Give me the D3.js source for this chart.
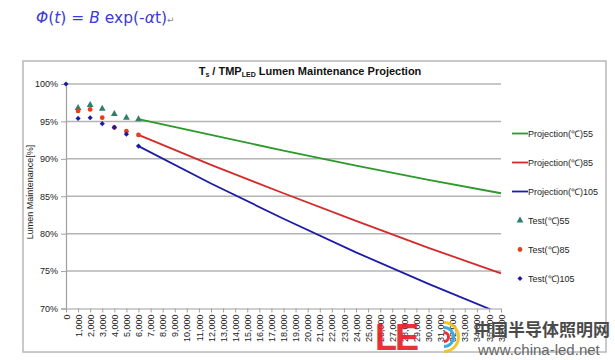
<!DOCTYPE html>
<html><head><meta charset="utf-8">
<script src="https://cdn.jsdelivr.net/npm/d3@7"></script>
<style>body{margin:0;background:#fff;} text{font-family:"Liberation Sans",Arial,sans-serif;}</style>
</head><body><svg id="c" width="615" height="360"></svg>
<script>
const xTicks = d3.range(0, 36001, 1000);
const yTicks = [0.70, 0.75, 0.80, 0.85, 0.90, 0.95, 1.00];
const testHours = [0, 1000, 2000, 3000, 4000, 5000, 6000];
const test55 = [null, 0.968, 0.972, 0.967, 0.960, 0.955, 0.953];
const test85 = [null, 0.964, 0.966, 0.955, 0.942, 0.937, 0.932];
const test105 = [1.000, 0.954, 0.955, 0.947, 0.942, 0.933, 0.917];
const projHours = [6000, 12000, 18000, 24000, 30000, 36000];
const proj55 = [0.953, 0.932, 0.911, 0.891, 0.872, 0.854];
const proj85 = [0.932, 0.892, 0.854, 0.817, 0.781, 0.747];
const proj105 = [0.917, 0.867, 0.820, 0.775, 0.733, 0.693];
const legendLabels = ["Projection(℃)55","Projection(℃)85","Projection(℃)105","Test(℃)55","Test(℃)85","Test(℃)105"];

const svg = d3.select("#c");
// formula
const f = svg.append("text").attr("x",36).attr("y",23).attr("fill","#3b3bd6").attr("font-size",15.5)
  .style("font-family","'DejaVu Sans',sans-serif");
f.append("tspan").attr("font-style","italic").text("Φ");
f.append("tspan").text("(");
f.append("tspan").attr("font-style","italic").text("t");
f.append("tspan").text(") = ");
f.append("tspan").attr("font-style","italic").text("B");
f.append("tspan").text(" exp(-");
f.append("tspan").attr("font-style","italic").text("α");
f.append("tspan").text("t)");
f.append("tspan").attr("font-size",9).attr("fill","#888").text("↵");

// frame
svg.append("rect").attr("x",23).attr("y",61).attr("width",583).attr("height",291)
  .attr("fill","#fff").attr("stroke","#b8b8b8").attr("stroke-width",1.5);

const x = d3.scaleLinear().domain([0,36000]).range([66,501]);
const y = d3.scaleLinear().domain([0.70,1.00]).range([308.5,84]);

// gridlines
svg.append("g").selectAll("line").data(yTicks.filter(d=>d>0.7)).join("line")
  .attr("x1",66).attr("x2",501).attr("y1",d=>y(d)).attr("y2",d=>y(d))
  .attr("stroke","#b4b4b4").attr("stroke-width",1.5);

// y axis
const ya = svg.append("g").attr("transform","translate(66,0)")
  .call(d3.axisLeft(y).tickValues(yTicks).tickFormat(d3.format(".0%")).tickSize(5).tickPadding(3));
ya.select(".domain").attr("stroke","#a0a0a0").attr("stroke-width",1.2);
ya.selectAll(".tick line").attr("stroke","#a0a0a0");
ya.selectAll("text").attr("font-size",9).attr("fill","#222").style("font-family","'Liberation Sans',Arial,sans-serif");

// x axis
const xa = svg.append("g").attr("transform","translate(0,308.5)")
  .call(d3.axisBottom(x).tickValues(xTicks).tickFormat(d3.format(",")).tickSizeInner(4).tickSizeOuter(0).tickPadding(3));
xa.select(".domain").attr("stroke","#a0a0a0").attr("stroke-width",1.2);
xa.selectAll(".tick line").attr("stroke","#a0a0a0");
xa.selectAll("text").attr("font-size",9).attr("fill","#222")
  .style("font-family","'Liberation Sans',Arial,sans-serif")
  .attr("text-anchor","end").attr("dy","0.35em")
  .attr("transform","translate(0,4) rotate(-90)").attr("x",-2).attr("y",0);

// y title
svg.append("text").attr("transform","translate(33,192) rotate(-90)").attr("text-anchor","middle")
  .attr("font-size",9).attr("fill","#222").text("Lumen Maintenance[%]");

// title
const t = svg.append("text").attr("x",310).attr("y",75).attr("text-anchor","middle")
  .attr("font-size",11).attr("font-weight","bold").attr("fill","#111");
t.append("tspan").text("T");
t.append("tspan").attr("font-size",7).attr("dy",2).text("s");
t.append("tspan").attr("dy",-2).text(" / TMP");
t.append("tspan").attr("font-size",7).attr("dy",2).text("LED");
t.append("tspan").attr("dy",-2).text(" Lumen Maintenance Projection");

// clip
svg.append("clipPath").attr("id","pc").append("rect").attr("x",66).attr("y",80).attr("width",436).attr("height",228.5);

const line = d3.line().x((d,i)=>x(projHours[i])).y(d=>y(d));
const lineColors = ["#2b9a2b","#d52a2a","#1c1ca8"];
[proj55,proj85,proj105].forEach((p,k)=>{
  svg.append("path").attr("d",line(p)).attr("fill","none").attr("stroke",lineColors[k])
    .attr("stroke-width",1.8).attr("clip-path","url(#pc)");
});

const mColors = ["#2f7f6a","#e2411c","#1a1aa6"];
const symT = d3.symbol().type(d3.symbolTriangle).size(20);
const symC = d3.symbol().type(d3.symbolCircle).size(18);
const symD = d3.symbol().type(d3.symbolSquare).size(13);
const syms = [symT, symC, symD];
const rot = [0,0,45];
[test55,test85,test105].forEach((s,k)=>{
  svg.append("g").selectAll("path").data(testHours.map((h,i)=>[h,s[i]]).filter(d=>d[1]!=null)).join("path")
    .attr("d",syms[k]()).attr("fill",mColors[k])
    .attr("transform",d=>`translate(${x(d[0])},${y(d[1])}) rotate(${rot[k]})`);
});

// legend
const lg = svg.append("g");
legendLabels.forEach((lab,i)=>{
  const yy = 133.5 + i*29;
  if(i<3){
    lg.append("line").attr("x1",512).attr("x2",528).attr("y1",yy).attr("y2",yy)
      .attr("stroke",lineColors[i]).attr("stroke-width",1.8);
  } else {
    lg.append("path").attr("d",syms[i-3]()).attr("fill",mColors[i-3])
      .attr("transform",`translate(520,${yy}) rotate(${rot[i-3]})`);
  }
  lg.append("text").attr("x",528).attr("y",yy+3).attr("font-size",9).attr("fill","#222").text(lab);
});

// watermark
const wm = svg.append("g").attr("opacity",0.92);
wm.append("text").attr("x",375).attr("y",350).attr("font-size",36).attr("font-weight","bold")
  .attr("fill","#e8202a").style("letter-spacing","-2px").text("LE");
const arc = d3.arc();
[["#f4c21a",16],["#29a8e0",11],["#e8202a",6]].forEach(([c,r])=>{
  wm.append("path").attr("transform","translate(444,337)")
    .attr("d",arc({innerRadius:r-3,outerRadius:r,startAngle:0,endAngle:Math.PI}))
    .attr("fill",c);
});
svg.append("text").attr("x",474).attr("y",336).attr("font-size",17).attr("font-weight","bold")
  .attr("fill","#4a4a4a").style("font-family","'Noto Sans CJK SC',sans-serif").text("中国半导体照明网");
svg.append("text").attr("x",478).attr("y",355).attr("font-size",15)
  .attr("fill","#666").text("www.china-led.net");
</script></body></html>
